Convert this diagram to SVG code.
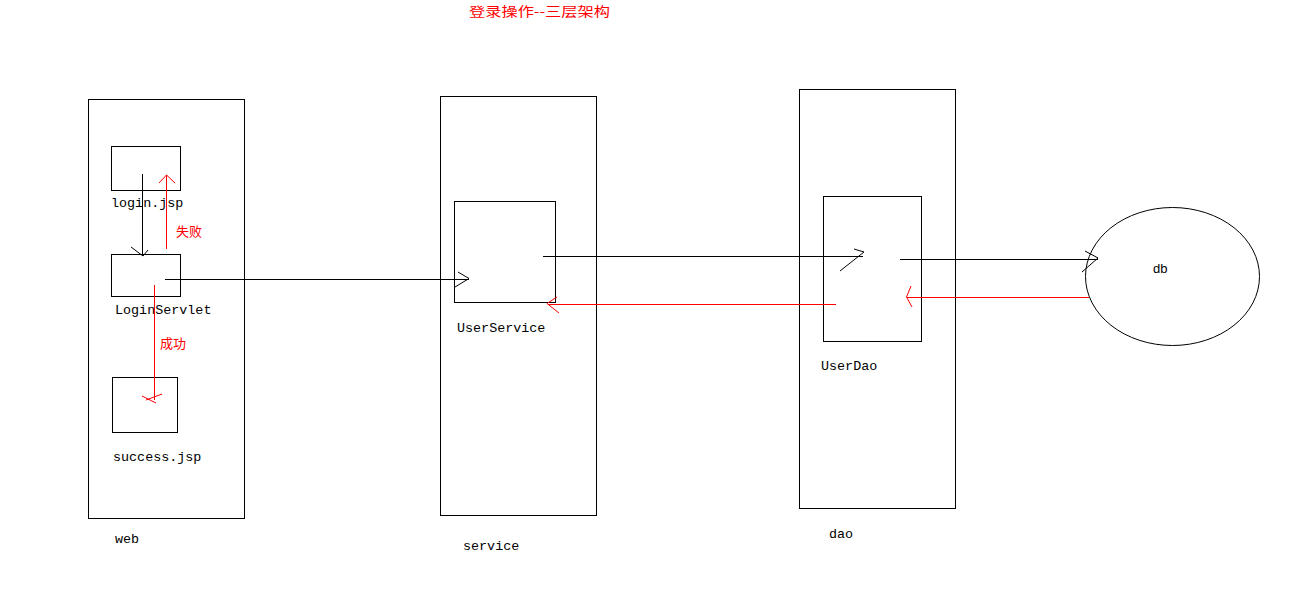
<svg xmlns="http://www.w3.org/2000/svg" width="1292" height="605" viewBox="0 0 1292 605">
<style>
.box{fill:none;stroke:#000;stroke-width:1}
.lbl{font-family:"Liberation Mono","Noto Sans CJK SC",monospace;font-size:13.4px;fill:#000}
.red{font-family:"Noto Sans CJK SC",sans-serif;font-size:13px;fill:#f00}
.k{stroke:#000;stroke-width:1;fill:none}
.r{stroke:#f00;stroke-width:1;fill:none}
</style>
<rect width="1292" height="605" fill="#fff"/>
<text x="469" y="16" class="red" font-size="14" textLength="141" lengthAdjust="spacingAndGlyphs">登录操作--三层架构</text>
<g id="web">
<rect class="box" x="88.5" y="99.5" width="156" height="419"/>
<text x="115" y="543" class="lbl">web</text>
</g>
<g id="login-jsp">
<rect class="box" x="111.5" y="146.5" width="69" height="44"/>
<text x="111" y="207" class="lbl">login.jsp</text>
</g>
<g id="loginservlet">
<rect class="box" x="111.5" y="254.5" width="69" height="42"/>
<text x="115" y="314" class="lbl">LoginServlet</text>
</g>
<g id="success-jsp">
<rect class="box" x="112.5" y="377.5" width="65" height="55"/>
<text x="113" y="461" class="lbl">success.jsp</text>
</g>
<g id="service">
<rect class="box" x="440.5" y="96.5" width="156" height="419"/>
<text x="463" y="550" class="lbl">service</text>
</g>
<g id="userservice">
<rect class="box" x="454.5" y="201.5" width="101" height="101"/>
<text x="457" y="332" class="lbl">UserService</text>
</g>
<g id="dao">
<rect class="box" x="799.5" y="89.5" width="156" height="419"/>
<text x="829" y="538" class="lbl">dao</text>
</g>
<g id="userdao">
<rect class="box" x="823.5" y="196.5" width="98" height="145"/>
<text x="821" y="370" class="lbl">UserDao</text>
</g>
<g id="db">
<ellipse class="box" cx="1172.5" cy="276.5" rx="87" ry="69"/>
<text x="1153" y="273" font-family="Liberation Sans, sans-serif" font-size="13" fill="#000">db</text>
</g>
<g id="connectors">
<path class="k" d="M142.5 174V256M131 247L143 256L148 250"/>
<path class="r" d="M166.5 249V175M159 183L166.5 175L175 183"/>
<text x="176" y="236" class="red">失败</text>
<path class="r" d="M154.5 285V400M142 396L156 403M162 394L146 400"/>
<text x="160" y="348" class="red">成功</text>
<path class="k" d="M165 279.5H469M458 272L469 278.5L455 287"/>
<path class="k" d="M543 256.5H863M854 249L864 252L840 271"/>
<path class="r" d="M836 304.5H548M557 297L547 303.5L559 313"/>
<path class="k" d="M900 259.5H1098M1085 251L1098 258L1082 272"/>
<path class="r" d="M1089 297.5H907M911 286L906.5 297L912 307"/>
</g>
</svg>
